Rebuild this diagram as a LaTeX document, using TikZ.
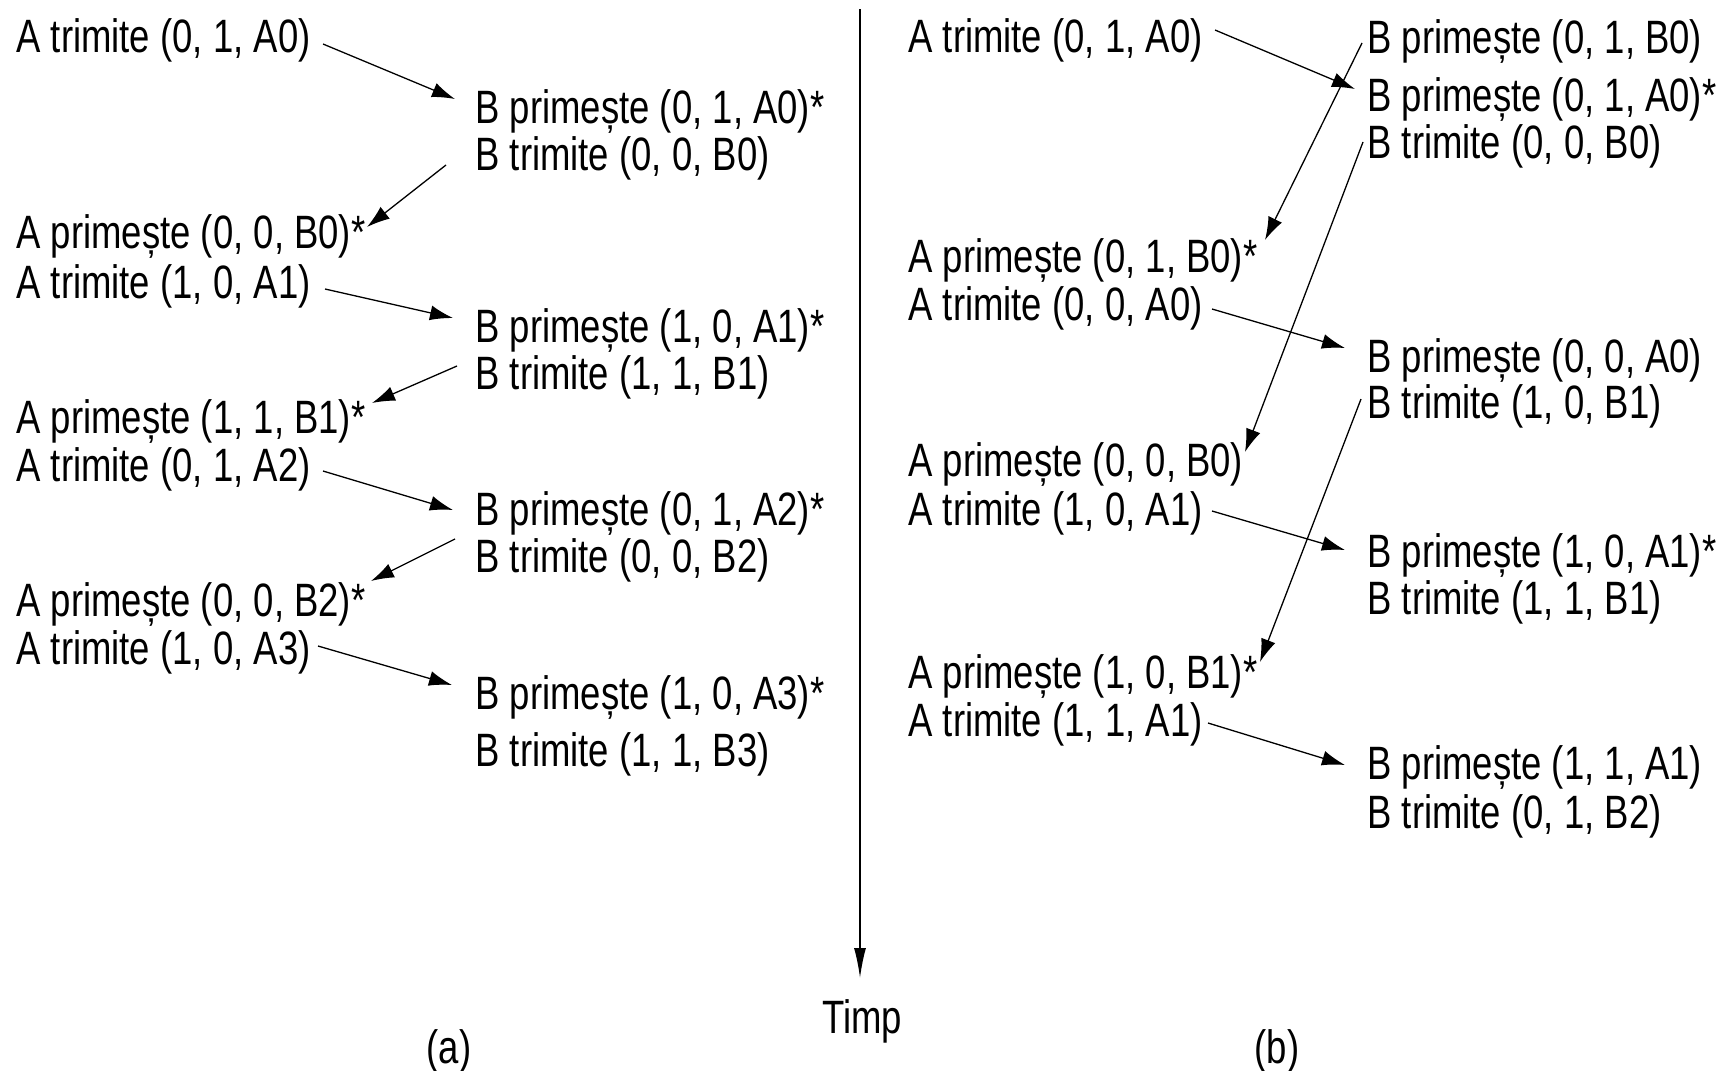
\documentclass[tikz,border=0pt]{standalone}
\usepackage{fontspec}
\setmainfont{Liberation Sans}[FakeStretch=0.78]
\usetikzlibrary{arrows.meta}
\begin{document}
\begin{tikzpicture}[x=0.5pt, y=-0.5pt,
  lbl/.style={anchor=base west, inner sep=0pt, font=\fontsize{23.4}{27}\selectfont},
  caption/.style={anchor=base, inner sep=0pt, font=\fontsize{23.4}{27}\selectfont},
  msg/.style={line width=0.65pt, -{Latex[length=11.5pt,width=7.5pt]}},
  timeline/.style={line width=0.8pt, -{Latex[length=15pt,width=6pt]}}]
\useasboundingbox (0,0) rectangle (1719,1071);

% ---------- (a) ----------
\node[lbl] (a1) at (16,52)  {A trimite (0, 1, A0)};
\node[lbl] (b1) at (475,123) {B primește (0, 1, A0)*};
\node[lbl] (b2) at (475,170) {B trimite (0, 0, B0)};
\node[lbl] (a2) at (16,248) {A primește (0, 0, B0)*};
\node[lbl] (a3) at (16,298) {A trimite (1, 0, A1)};
\node[lbl] (b3) at (475,342) {B primește (1, 0, A1)*};
\node[lbl] (b4) at (475,389) {B trimite (1, 1, B1)};
\node[lbl] (a4) at (16,433) {A primește (1, 1, B1)*};
\node[lbl] (a5) at (16,481) {A trimite (0, 1, A2)};
\node[lbl] (b5) at (475,525) {B primește (0, 1, A2)*};
\node[lbl] (b6) at (475,572) {B trimite (0, 0, B2)};
\node[lbl] (a6) at (16,616) {A primește (0, 0, B2)*};
\node[lbl] (a7) at (16,664) {A trimite (1, 0, A3)};
\node[lbl] (b7) at (475,709) {B primește (1, 0, A3)*};
\node[lbl] (b8) at (475,766) {B trimite (1, 1, B3)};

\coordinate (pa1s) at (323,44);  \coordinate (pa1e) at (455,99);
\coordinate (pa2s) at (446,165); \coordinate (pa2e) at (367,227);
\coordinate (pa3s) at (325,289); \coordinate (pa3e) at (453,318);
\coordinate (pa4s) at (457,366); \coordinate (pa4e) at (372,403);
\coordinate (pa5s) at (323,471); \coordinate (pa5e) at (453,510);
\coordinate (pa6s) at (455,539); \coordinate (pa6e) at (371,581);
\coordinate (pa7s) at (318,646); \coordinate (pa7e) at (452,685);
\foreach \i in {1,...,7} \draw[msg] (pa\i s) -- (pa\i e);

% ---------- time axis ----------
\coordinate (ttop) at (860,9);
\coordinate (tbot) at (860,978);
\draw[timeline] (ttop) -- (tbot);
\node[caption] (timp) at (862,1033) {Timp};
\node[caption] (capa) at (449,1063) {(a)};
\node[caption] (capb) at (1277,1063) {(b)};

% ---------- (b) ----------
\node[lbl] (c1) at (908,52)   {A trimite (0, 1, A0)};
\node[lbl] (d1) at (1367,53)  {B primește (0, 1, B0)};
\node[lbl] (d2) at (1367,111) {B primește (0, 1, A0)*};
\node[lbl] (d3) at (1367,158) {B trimite (0, 0, B0)};
\node[lbl] (c2) at (908,272)  {A primește (0, 1, B0)*};
\node[lbl] (c3) at (908,320)  {A trimite (0, 0, A0)};
\node[lbl] (d4) at (1367,372) {B primește (0, 0, A0)};
\node[lbl] (d5) at (1367,418) {B trimite (1, 0, B1)};
\node[lbl] (c4) at (908,476)  {A primește (0, 0, B0)};
\node[lbl] (c5) at (908,525)  {A trimite (1, 0, A1)};
\node[lbl] (d6) at (1367,567) {B primește (1, 0, A1)*};
\node[lbl] (d7) at (1367,614) {B trimite (1, 1, B1)};
\node[lbl] (c6) at (908,688)  {A primește (1, 0, B1)*};
\node[lbl] (c7) at (908,736)  {A trimite (1, 1, A1)};
\node[lbl] (d8) at (1367,779) {B primește (1, 1, A1)};
\node[lbl] (d9) at (1367,828) {B trimite (0, 1, B2)};

\coordinate (pb1s) at (1215,30);  \coordinate (pb1e) at (1355,89);
\coordinate (pb2s) at (1362,43);  \coordinate (pb2e) at (1265,240);
\coordinate (pb3s) at (1363,142); \coordinate (pb3e) at (1245,452);
\coordinate (pb4s) at (1212,309); \coordinate (pb4e) at (1345,348);
\coordinate (pb5s) at (1361,399); \coordinate (pb5e) at (1260,662);
\coordinate (pb6s) at (1212,511); \coordinate (pb6e) at (1345,550);
\coordinate (pb7s) at (1208,723); \coordinate (pb7e) at (1345,765);
\foreach \i in {1,...,7} \draw[msg] (pb\i s) -- (pb\i e);
\end{tikzpicture}
\end{document}
